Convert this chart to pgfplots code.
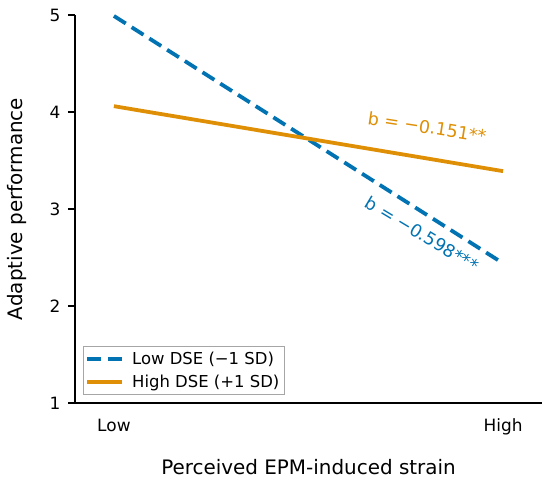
\documentclass[border=0pt]{standalone}
\usepackage{fontspec}
\setmainfont{DejaVu Sans}
\usepackage{pgfplots}
\pgfplotsset{compat=1.18}
\definecolor{cbblue}{HTML}{0173B2}
\definecolor{cborange}{HTML}{DE8F05}
\begin{document}
\begin{tikzpicture}
\path[use as bounding box] (-75bp,-79bp) rectangle (475bp,403bp);
\begin{axis}[
  at={(0,0)}, anchor=south west,
  scale only axis, width=467bp, height=388bp,
  xmin=-0.1, xmax=1.1, ymin=1, ymax=5,
  axis lines*=left,
  axis line style={line width=1.1bp, black},
  xtick={0,1}, xticklabels={Low,High},
  ytick={1,2,3,4,5},
  tick align=outside, major tick length=7bp,
  xtick style={draw=none},
  ytick style={line width=1.1bp, black},
  /pgf/number format/assume math mode=true,
  tick label style={font=\fontsize{17}{20}\selectfont},
  yticklabel style={xshift=-4bp},
  xticklabel style={yshift=-5.5bp},
  xlabel={Perceived EPM-induced strain},
  ylabel={Adaptive performance},
  label style={font=\fontsize{20}{24}\selectfont},
  xlabel style={at={(axis description cs:0.5,-0.166)}, anchor=center},
  ylabel style={at={(axis description cs:-0.124,0.5)}, anchor=center},
  legend style={at={(axis description cs:0.017,0.0206)}, anchor=south west,
    draw=gray!70, line width=1bp, font=\fontsize{16.5}{20}\selectfont,
    inner xsep=2bp, inner ysep=2.5bp, row sep=3.3bp, column sep=5bp,
    nodes={inner sep=3bp}},
  legend cell align=left,
  legend image code/.code={\draw[#1] (0bp,0bp) -- (35bp,0bp);},
]
\addplot[cbblue, line width=3.8bp, dash pattern=on 14bp off 7bp] coordinates {(0,4.99) (1,2.44)};
\addlegendentry{Low DSE (−1 SD)}
\addplot[cborange, line width=3.8bp] coordinates {(0,4.06) (1,3.39)};
\addlegendentry{High DSE (+1 SD)}
\node[rotate=-9, text=cborange, font=\fontsize{17.6}{20}\selectfont] at (axis cs:0.805,3.845) {b = −0.151**};
\node[rotate=-31, text=cbblue, font=\fontsize{17.6}{20}\selectfont] at (axis cs:0.792,2.742) {b = −0.598***};
\end{axis}
\end{tikzpicture}
\end{document}
